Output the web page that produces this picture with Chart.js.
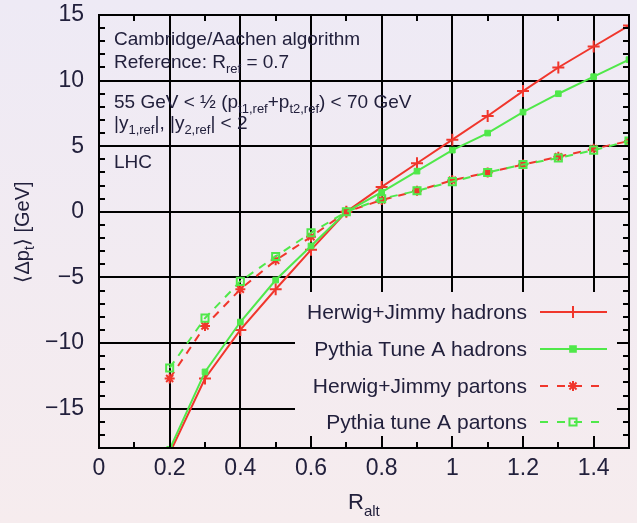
<!DOCTYPE html>
<html><head><meta charset="utf-8">
<script src="https://cdn.jsdelivr.net/npm/chart.js@4"></script>
<style>
html,body{margin:0;padding:0;background:#f2ebf1;}
#wrap{position:relative;width:637px;height:523px;overflow:hidden;}
canvas{display:block;}
</style></head><body><div id="wrap"><canvas id="c" width="637" height="523"></canvas></div>
<script>
// ---- data ----
const rAlt = [0.2,0.3,0.4,0.5,0.6,0.7,0.8,0.9,1.0,1.1,1.2,1.3,1.4,1.5];
const herwigHadrons = [-18.4,-12.7,-9.0,-5.9,-2.9,0,1.9,3.7,5.5,7.3,9.2,11.0,12.6,14.2];
const pythiaHadrons = [-18.1,-12.2,-8.4,-5.2,-2.6,0,1.5,3.1,4.7,6.0,7.6,9.0,10.3,11.6];
const herwigPartons = [-12.7,-8.7,-5.9,-3.7,-1.9,0,0.9,1.6,2.4,3.0,3.6,4.2,4.8,5.4];
const pythiaPartons = [-11.9,-8.1,-5.3,-3.4,-1.6,0,1.0,1.6,2.3,3.0,3.6,4.1,4.7,5.4];
const seriesLabels = ['Herwig+Jimmy hadrons','Pythia Tune A hadrons','Herwig+Jimmy partons','Pythia tune A partons'];
const xTicks = [0,0.2,0.4,0.6,0.8,1.0,1.2,1.4];
const xTickLabels = ['0','0.2','0.4','0.6','0.8','1','1.2','1.4'];
const yTicks = [-15,-10,-5,0,5,10,15];
const yTickLabels = ['\u221215','\u221210','\u22125','0','5','10','15'];
const xMinorTicks = [0.1,0.3,0.5,0.7,0.9,1.1,1.3];
const yMinorTicks = [-17,-16,-14,-13,-12,-11,-9,-8,-7,-6,-4,-3,-2,-1,1,2,3,4,6,7,8,9,11,12,13,14];

const FONT = '"Liberation Sans", Arial, Helvetica, sans-serif';
const TXT = '#22203c';
const RED = '#f0362c';
const GREEN = '#50e84a';

function pts(ys){ return rAlt.map((x,i)=>({x:x, y:ys[i]})); }

function bgGrad(ctx){
  const g = ctx.createLinearGradient(0,0,0,523);
  g.addColorStop(0,'#eeeaf5');
  g.addColorStop(1,'#f6ecee');
  return g;
}

function rich(ctx, parts, x, y, size, subSize, subDy, align){
  let w = 0;
  parts.forEach(p=>{ ctx.font = (p.s?subSize:size)+'px '+FONT; p.w = ctx.measureText(p.t).width; w += p.w; });
  let cx = align==='right' ? x-w : (align==='center' ? x-w/2 : x);
  ctx.textAlign = 'left'; ctx.textBaseline = 'alphabetic';
  parts.forEach(p=>{ ctx.font = (p.s?subSize:size)+'px '+FONT; ctx.fillText(p.t, cx, y+(p.s?subDy:0)); cx += p.w; });
}

const datasets = [
  {label:seriesLabels[0], data:pts(herwigHadrons), borderColor:RED, backgroundColor:RED, borderWidth:2,
   pointStyle:'cross', pointRadius:6, pointBorderWidth:2, order:4},
  {label:seriesLabels[1], data:pts(pythiaHadrons), borderColor:GREEN, backgroundColor:GREEN, borderWidth:2,
   pointStyle:'rect', pointRadius:4, pointBorderWidth:1, order:3},
  {label:seriesLabels[2], data:pts(herwigPartons), borderColor:RED, backgroundColor:RED, borderWidth:2, borderDash:[8,7],
   pointStyle:'star', pointRadius:5, pointBorderWidth:2, order:2},
  {label:seriesLabels[3], data:pts(pythiaPartons), borderColor:GREEN, backgroundColor:'rgba(0,0,0,0)', borderWidth:2, borderDash:[8,7],
   pointStyle:'rect', pointRadius:5, pointBorderWidth:2, order:1}
];
datasets.forEach(d=>{ d.showLine = true; d.clip = 0; d.tension = 0; });

const LEG = {x0:295, y0:292};

const decor = {
  id:'decor',
  beforeDraw(chart){
    const ctx = chart.ctx;
    ctx.save(); ctx.fillStyle = bgGrad(ctx); ctx.fillRect(0,0,chart.width,chart.height); ctx.restore();
  },
  beforeDatasetsDraw(chart){
    const ctx = chart.ctx, a = chart.chartArea;
    ctx.save(); ctx.fillStyle = bgGrad(ctx);
    ctx.fillRect(LEG.x0, LEG.y0, a.right-LEG.x0, a.bottom-LEG.y0);
    ctx.restore();
  },
  afterDatasetsDraw(chart){
    const ctx = chart.ctx, a = chart.chartArea;
    const xs = chart.scales.x, ys = chart.scales.y;
    ctx.save();
    ctx.strokeStyle = '#000'; ctx.lineWidth = 2; ctx.setLineDash([]);
    ctx.beginPath();
    const tick = (v, len, isX)=>{
      if(isX){
        const p = Math.round(xs.getPixelForValue(v));
        ctx.moveTo(p,a.bottom); ctx.lineTo(p,a.bottom-len);
        ctx.moveTo(p,a.top); ctx.lineTo(p,a.top+len);
      } else {
        const p = Math.round(ys.getPixelForValue(v));
        ctx.moveTo(a.left,p); ctx.lineTo(a.left+len,p);
        ctx.moveTo(a.right,p); ctx.lineTo(a.right-len,p);
      }
    };
    xTicks.forEach(v=>tick(v,12,true));
    xMinorTicks.forEach(v=>tick(v,6,true));
    yTicks.forEach(v=>tick(v,12,false));
    yMinorTicks.forEach(v=>tick(v,6,false));
    ctx.stroke();
    ctx.strokeRect(a.left, a.top, a.right-a.left, a.bottom-a.top);

    // legend
    const rows = [312,349,386,422];
    chart.data.datasets.forEach((d,i)=>{
      const y = rows[i];
      ctx.fillStyle = TXT;
      rich(ctx,[{t:d.label}],527,y+7,21,14,0,'right');
      ctx.strokeStyle = d.borderColor; ctx.lineWidth = 2;
      ctx.setLineDash(d.borderDash ? [8,9] : []);
      ctx.beginPath(); ctx.moveTo(540,y); ctx.lineTo(607,y); ctx.stroke();
      ctx.setLineDash([]);
      ctx.fillStyle = d.backgroundColor;
      Chart.helpers.drawPoint(ctx,{pointStyle:d.pointStyle, radius:d.pointRadius, rotation:0, borderWidth:d.pointBorderWidth},573,y);
    });

    // annotation text
    ctx.fillStyle = TXT;
    rich(ctx,[{t:'Cambridge/Aachen algorithm'}],114,45,19,13,5);
    rich(ctx,[{t:'Reference: R'},{t:'ref',s:1},{t:' = 0.7'}],114,68,19,13,5);
    rich(ctx,[{t:'55 GeV < \u00bd (p'},{t:'t1,ref',s:1},{t:'+p'},{t:'t2,ref',s:1},{t:') < 70 GeV'}],114,108,19,13,5);
    rich(ctx,[{t:'|y'},{t:'1,ref',s:1},{t:'|, |y'},{t:'2,ref',s:1},{t:'| < 2'}],114,129,19,13,5);
    rich(ctx,[{t:'LHC'}],114,168,19,13,5);

    // axis titles
    rich(ctx,[{t:'R'},{t:'alt',s:1}],348,509,22,15,7);
    ctx.save();
    ctx.translate(29,232); ctx.rotate(-Math.PI/2);
    rich(ctx,[{t:'\u27e8\u0394p'},{t:'t',s:1},{t:'\u27e9 [GeV]'}],0,0,20,14,5,'center');
    ctx.restore();
    ctx.restore();
  }
};

new Chart(document.getElementById('c'),{
  type:'scatter',
  data:{datasets:datasets},
  options:{
    responsive:false, animation:false, devicePixelRatio:1,
    layout:{padding:{top:15,right:-1,left:0,bottom:0}},
    plugins:{legend:{display:false}, tooltip:{enabled:false}},
    scales:{
      x:{type:'linear', min:0, max:1.5,
         afterBuildTicks:s=>{ s.ticks = xTicks.map(v=>({value:v})); },
         afterFit:s=>{ s.height = 75; s.paddingLeft = 0; s.paddingRight = 0; },
         ticks:{callback:(v)=>xTickLabels[xTicks.indexOf(v)], font:{family:FONT,size:23}, color:TXT, padding:7, maxRotation:0, autoSkip:false},
         grid:{color:'#000', lineWidth:2, drawTicks:false},
         border:{display:false}},
      y:{type:'linear', min:-18, max:15,
         afterBuildTicks:s=>{ s.ticks = yTicks.map(v=>({value:v})); },
         afterFit:s=>{ s.width = 99; s.paddingTop = 0; s.paddingBottom = 0; },
         ticks:{callback:(v)=>yTickLabels[yTicks.indexOf(v)], font:{family:FONT,size:23}, color:TXT, padding:15, autoSkip:false},
         grid:{color:'#000', lineWidth:2, drawTicks:false},
         border:{display:false}}
    }
  },
  plugins:[decor]
});
</script>
</body></html>
